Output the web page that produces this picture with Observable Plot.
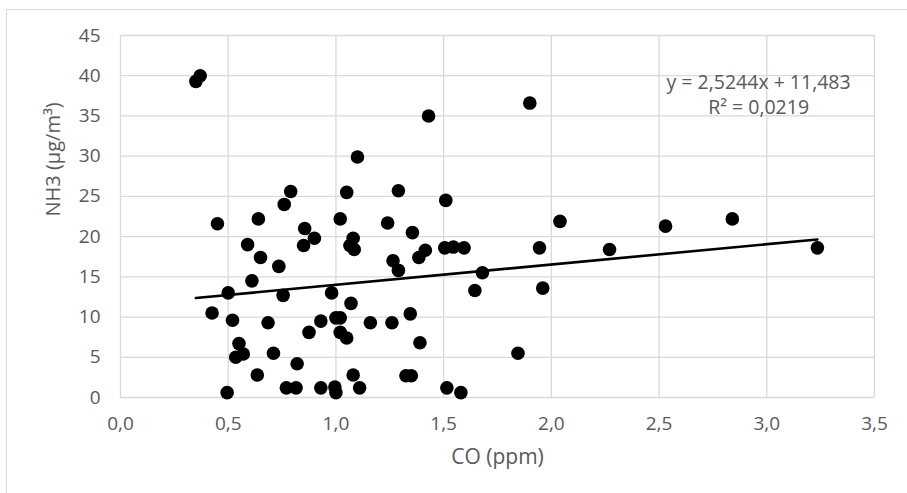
<!DOCTYPE html>
<html>
<head>
<meta charset="utf-8">
<script src="https://cdn.jsdelivr.net/npm/d3@7"></script>
<script src="https://cdn.jsdelivr.net/npm/@observablehq/plot@0.6"></script>
<style>
  html, body { margin: 0; padding: 0; background: #fff; }
  #wrap { position: relative; width: 907px; height: 493px; overflow: hidden; }
  #border { position: absolute; left: 6px; top: 9px; right: -10px; bottom: -10px; border-left: 1px solid #d9d9d9; border-top: 1px solid #d9d9d9; }
  #chart { position: absolute; left: 0; top: 0; }
</style>
</head>
<body>
<div id="wrap"><div id="border"></div><div id="chart"></div></div>
<script>
// CO (ppm)
const co = [
  0.37, 0.35, 1.10, 0.79, 0.76, 1.05, 1.29, 0.45, 0.64, 1.02,
  1.24, 0.855, 0.90, 0.85, 0.59, 1.08, 1.065, 1.085, 0.65, 0.735,
  1.265, 1.29, 0.61, 0.50, 0.755, 0.98, 1.07, 0.425, 0.52, 0.685,
  0.93, 1.00, 1.02, 1.16, 1.26, 0.875, 1.02, 1.05, 0.55, 0.57,
  0.535, 0.71, 0.82, 0.635, 1.08, 0.495, 0.77, 0.815, 0.93, 0.995,
  1.00, 1.11, 1.90, 1.43, 1.51, 2.04, 2.53, 1.355, 1.945, 2.27,
  1.505, 1.545, 1.595, 1.415, 1.385, 1.68, 1.645, 1.96, 1.345, 1.39,
  1.845, 1.325, 1.35, 1.515, 1.58, 2.84, 3.235
];
// NH3 (µg/m³)
const nh3 = [
  40.0, 39.3, 29.9, 25.6, 24.0, 25.5, 25.7, 21.6, 22.2, 22.2,
  21.7, 21.0, 19.8, 18.9, 19.0, 19.8, 18.9, 18.4, 17.4, 16.3,
  17.0, 15.8, 14.5, 13.0, 12.7, 13.0, 11.7, 10.5, 9.6, 9.3,
  9.5, 9.9, 9.9, 9.3, 9.3, 8.1, 8.1, 7.4, 6.7, 5.4,
  5.0, 5.5, 4.2, 2.8, 2.8, 0.6, 1.2, 1.2, 1.2, 1.3,
  0.6, 1.2, 36.6, 35.0, 24.5, 21.9, 21.3, 20.5, 18.6, 18.4,
  18.6, 18.7, 18.6, 18.3, 17.4, 15.5, 13.3, 13.6, 10.4, 6.8,
  5.5, 2.7, 2.7, 1.2, 0.6, 22.2, 18.6
];
const xTicks = [0, 0.5, 1.0, 1.5, 2.0, 2.5, 3.0, 3.5];
const yTicks = [0, 5, 10, 15, 20, 25, 30, 35, 40, 45];
const trendSlope = 2.5244;
const trendIntercept = 11.483;
const equationLines = ["y = 2,5244x + 11,483", "R² = 0,0219"];
const equationX = 2.962;
const equationY = [39.15, 36.0];
const xLabel = "CO (ppm)";
const yLabel = "NH3 (µg/m³)";

const data = co.map((x, i) => ({x, y: nh3[i]}));
const ext = d3.extent(co);
const trend = ext.map(x => ({x, y: trendSlope * x + trendIntercept}));
const eq = equationLines.map((t, i) => ({t, x: equationX, y: equationY[i]}));

const chart = Plot.plot({
  width: 907,
  height: 493,
  marginLeft: 120,
  marginRight: 33,
  marginTop: 35,
  marginBottom: 96,
  style: {fontFamily: "'Open Sans', sans-serif", fontSize: "19px", color: "#595959", background: "transparent", overflow: "visible"},
  x: {domain: [0, 3.5], ticks: xTicks, tickSize: 0, tickPadding: 19, label: null,
      tickFormat: d => d3.format(".1f")(d).replace(".", ",")},
  y: {domain: [0, 45], ticks: yTicks, tickSize: 0, tickPadding: 20, label: null,
      tickFormat: d => String(d)},
  marks: [
    Plot.ruleX(xTicks, {stroke: "#d9d9d9", strokeWidth: 1.3}),
    Plot.ruleY(yTicks, {stroke: "#d9d9d9", strokeWidth: 1.3}),
    Plot.dot(data, {x: "x", y: "y", r: 6.8, fill: "black", stroke: "none"}),
    Plot.line(trend, {x: "x", y: "y", stroke: "black", strokeWidth: 2.6}),
    Plot.text(eq, {x: "x", y: "y", text: "t", fill: "#595959", fontSize: 19.5, textAnchor: "middle"}),
    Plot.text([xLabel], {frameAnchor: "bottom", text: d => d, dy: 66, fill: "#595959", fontSize: 21}),
    Plot.text([yLabel], {frameAnchor: "left", text: d => d, dx: -67, rotate: -90, fill: "#595959", fontSize: 20})
  ]
});
document.getElementById("chart").appendChild(chart);
</script>
</body>
</html>
